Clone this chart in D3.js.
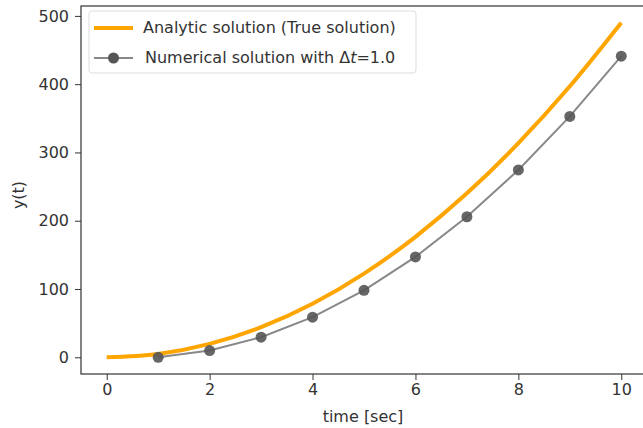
<!DOCTYPE html>
<html>
<head>
<meta charset="utf-8">
<script src="https://cdn.jsdelivr.net/npm/d3@7"></script>
<style>
  body { margin: 0; background: #fff; }
  svg { font-family: "DejaVu Sans", sans-serif; }
</style>
</head>
<body>
<svg width="643" height="428"></svg>
<script>
'use strict'

// analytic curve, read at integer times
const TRUE_T = [0, 1, 2, 3, 4, 5, 6, 7, 8, 9, 10];
const TRUE_Y = [0, 4.9, 19.6, 44.1, 78.4, 122.5, 176.4, 240.1, 313.6, 396.9, 490];

// numerical points
const NUM_T = [1, 2, 3, 4, 5, 6, 7, 8, 9, 10];
const NUM_Y = [0, 9.8, 29.4, 58.8, 98, 147, 205.8, 274.4, 352.8, 441];

const X_TICKS = [0, 2, 4, 6, 8, 10];
const Y_TICKS = [0, 100, 200, 300, 400, 500];

const FS = 16;

const svg = d3.select('svg');
const mLeft = 81, mRight = 647, mTop = 6, mBottom = 374;

const x = d3.scaleLinear().domain([-0.5, 10.5]).range([mLeft, mRight]);
const y = d3.scaleLinear().domain([-24.5, 514.5]).range([mBottom, mTop]);

const trueData = TRUE_T.map((t, i) => [t, TRUE_Y[i]]);
const numData = NUM_T.map((t, i) => [t, NUM_Y[i]]);

const line = d3.line()
  .x(d => x(d[0]))
  .y(d => y(d[1]))
  .curve(d3.curveMonotoneX);

svg.append('path')
  .datum(trueData)
  .attr('d', line)
  .attr('fill', 'none')
  .attr('stroke', 'orange')
  .attr('stroke-width', 4);

svg.append('path')
  .datum(numData)
  .attr('d', d3.line().x(d => x(d[0])).y(d => y(d[1])))
  .attr('fill', 'none')
  .attr('stroke', '#888')
  .attr('stroke-width', 2);

svg.selectAll('circle.pt')
  .data(numData)
  .join('circle')
  .attr('class', 'pt')
  .attr('cx', d => x(d[0]))
  .attr('cy', d => y(d[1]))
  .attr('r', 5.5)
  .attr('fill', '#555')
  .attr('fill-opacity', 0.9);

// axes
const xAxis = svg.append('g')
  .attr('transform', `translate(0,${mBottom})`)
  .call(d3.axisBottom(x).tickValues(X_TICKS).tickSize(6).tickPadding(4));
const yAxis = svg.append('g')
  .attr('transform', `translate(${mLeft},0)`)
  .call(d3.axisLeft(y).tickValues(Y_TICKS).tickSize(6).tickPadding(6));

[xAxis, yAxis].forEach(g => {
  g.select('.domain').remove();
  g.selectAll('line').attr('stroke', '#333');
  g.selectAll('text').attr('font-size', FS).attr('fill', '#333')
    .attr('font-family', '"DejaVu Sans", sans-serif');
});

// frame
svg.append('rect')
  .attr('x', mLeft).attr('y', mTop)
  .attr('width', mRight - mLeft).attr('height', mBottom - mTop)
  .attr('fill', 'none').attr('stroke', '#333').attr('stroke-width', 1.2);

svg.append('text')
  .attr('x', 363).attr('y', 422)
  .attr('text-anchor', 'middle').attr('font-size', FS).attr('fill', '#333')
  .text('time [sec]');

svg.append('text')
  .attr('transform', 'translate(24,195) rotate(-90)')
  .attr('text-anchor', 'middle').attr('font-size', FS).attr('fill', '#333')
  .text('y(t)');

// legend
const lg = svg.append('g');
lg.append('rect')
  .attr('x', 89).attr('y', 11).attr('width', 327).attr('height', 62)
  .attr('rx', 3).attr('fill', '#fff').attr('fill-opacity', 0.8)
  .attr('stroke', '#ddd');
lg.append('line')
  .attr('x1', 94).attr('x2', 133).attr('y1', 28).attr('y2', 28)
  .attr('stroke', 'orange').attr('stroke-width', 4);
lg.append('line')
  .attr('x1', 94).attr('x2', 133).attr('y1', 58).attr('y2', 58)
  .attr('stroke', '#888').attr('stroke-width', 2);
lg.append('circle')
  .attr('cx', 113.5).attr('cy', 58).attr('r', 5.5).attr('fill', '#555');
lg.append('text')
  .attr('x', 143).attr('y', 33).attr('font-size', FS).attr('fill', '#333')
  .text('Analytic solution (True solution)');
const t2 = lg.append('text')
  .attr('x', 145).attr('y', 63).attr('font-size', FS).attr('fill', '#333');
t2.append('tspan').text('Numerical solution with Δ');
t2.append('tspan').attr('font-style', 'italic').text('t');
t2.append('tspan').text('=1.0');
</script>
</body>
</html>
